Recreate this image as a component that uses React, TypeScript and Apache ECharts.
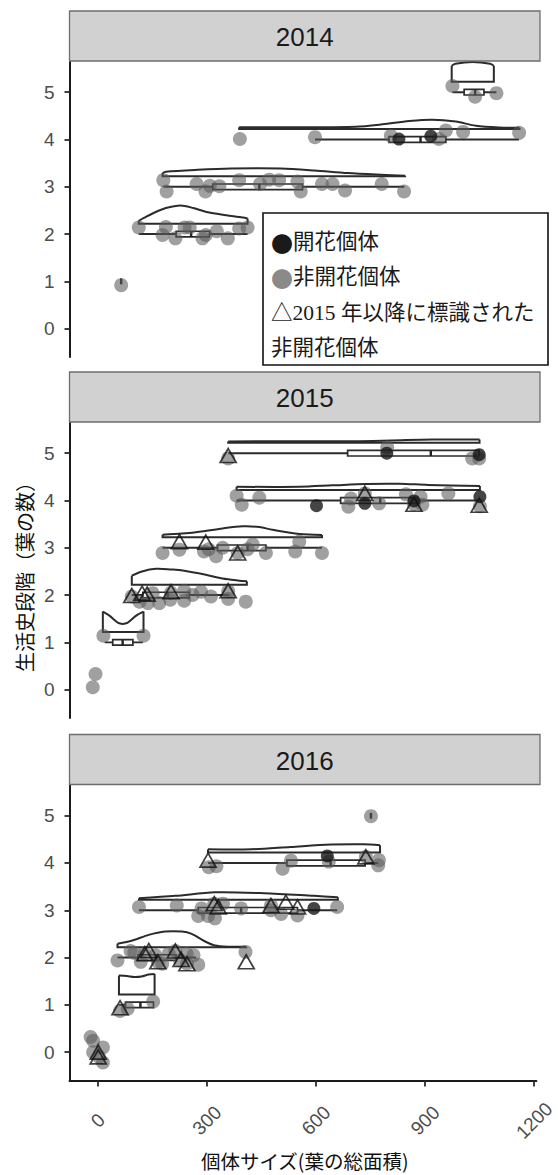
import { useEffect, useRef } from "react";
import * as echarts from "echarts";

// ---------- data ----------
const years = ["2014", "2015", "2016"];
const yTicks = [0, 1, 2, 3, 4, 5];
const xTicks = [0, 300, 600, 900, 1200];
const VIOLIN_OFFSET = 0.22;

// violin outlines: [leaf area, height above violin baseline]
const v14s2 = [[111, 0.06], [125, 0.12], [150, 0.22], [185, 0.33], [225, 0.385], [260, 0.33], [300, 0.24], [350, 0.18], [395, 0.13], [408, 0.11]];
const v14s3 = [[176, 0.07], [185, 0.1], [272, 0.14], [363, 0.165], [499, 0.165], [590, 0.125], [681, 0.07], [772, 0.035], [838, 0.015]];
const v14s4 = [[385, 0.04], [550, 0.04], [703, 0.05], [776, 0.1], [849, 0.17], [912, 0.2], [976, 0.16], [1031, 0.07], [1094, 0.035], [1150, 0.03]];
const v14s5 = [[965, 0.34], [975, 0.38], [1000, 0.41], [1022, 0.42], [1045, 0.41], [1070, 0.38], [1080, 0.34]];

const v15s1 = [[13, 0.43], [30, 0.35], [55, 0.19], [67, 0.17], [80, 0.19], [105, 0.35], [124, 0.43]];
const v15s2 = [[92, 0.19], [120, 0.28], [158, 0.335], [200, 0.32], [231, 0.3], [294, 0.21], [340, 0.13], [385, 0.085], [406, 0.07]];
const v15s3 = [[176, 0.056], [230, 0.08], [276, 0.12], [340, 0.19], [394, 0.233], [440, 0.218], [476, 0.16], [549, 0.07], [611, 0.05]];
const v15s4 = [[378, 0.07], [549, 0.07], [640, 0.1], [731, 0.13], [822, 0.134], [900, 0.11], [1042, 0.085]];
const v15s5 = [[355, 0.03], [700, 0.035], [800, 0.05], [912, 0.07], [1041, 0.07]];

const v16s1 = [[58, 0.4], [80, 0.39], [100, 0.37], [120, 0.38], [140, 0.42], [156, 0.43]];
const v16s2 = [[54, 0.07], [95, 0.14], [140, 0.26], [185, 0.33], [231, 0.33], [258, 0.28], [295, 0.12], [322, 0.035], [360, 0.01], [408, 0.01]];
const v16s3 = [[113, 0.035], [213, 0.085], [322, 0.16], [458, 0.14], [594, 0.085], [660, 0.056]];
const v16s4 = [[303, 0.07], [422, 0.07], [530, 0.12], [640, 0.17], [731, 0.177], [776, 0.155]];

const violins2014 = [{ stage: 2, pts: v14s2 }, { stage: 3, pts: v14s3 }, { stage: 4, pts: v14s4 }, { stage: 5, pts: v14s5 }];
const violins2015 = [{ stage: 1, pts: v15s1 }, { stage: 2, pts: v15s2 }, { stage: 3, pts: v15s3 }, { stage: 4, pts: v15s4 }, { stage: 5, pts: v15s5 }];
const violins2016 = [{ stage: 1, pts: v16s1 }, { stage: 2, pts: v16s2 }, { stage: 3, pts: v16s3 }, { stage: 4, pts: v16s4 }];

// boxplots: [stage, min, q1, median, q3, max]
const box2014 = [[1, 63, 63, 63, 63, 63], [2, 111, 213, 254, 304, 408], [3, 179, 313, 440, 558, 836], [4, 592, 794, 880, 949, 1149], [5, 967, 999, 1029, 1053, 1087]];
const box2015 = [[1, 18, 40, 67, 95, 122], [2, 92, 122, 190, 249, 358], [3, 176, 326, 408, 458, 611], [4, 378, 662, 770, 872, 1042], [5, 355, 681, 908, 1040, 1040]];
const box2016 = [[1, 58, 76, 117, 153, 153], [2, 54, 110, 160, 215, 270], [3, 113, 276, 394, 549, 658], [4, 303, 520, 640, 735, 771], [5, 751, 751, 751, 751, 751]];

// non-flowering individuals [leaf area, jittered stage]
const gray2014 = [
  [63, 0.92],
  [111, 2.14], [176, 1.98], [185, 2.15], [211, 1.91], [236, 2.14], [250, 2.14], [285, 1.91], [294, 1.98], [324, 2.06], [354, 1.91], [385, 2.12], [408, 2.14],
  [178, 3.14], [187, 2.9], [269, 3.06], [293, 2.9], [305, 3.02], [331, 3.01], [385, 3.14], [442, 3.06], [467, 3.15], [494, 3.14], [544, 3.11], [553, 2.9], [611, 3.06], [640, 3.06], [674, 2.92], [774, 3.06], [835, 2.9],
  [387, 4.01], [592, 4.05], [799, 4.08], [930, 4.01], [949, 4.19], [996, 4.16], [1149, 4.14],
  [967, 5.13], [1029, 4.905], [1087, 4.98],
];
const gray2015 = [
  [-7, 0.33], [-14.5, 0.05],
  [14.5, 1.14], [124, 1.14],
  [113, 1.86], [136, 1.83], [167, 1.83], [197, 1.9], [235, 1.88], [235, 2.09], [258, 2.0], [281, 2.07], [308, 1.97], [355, 1.92], [403, 1.86], [149, 2.04], [92, 1.97], [199, 2.05], [355, 2.08],
  [176, 2.89], [222, 2.96], [289, 2.92], [302, 2.97], [322, 2.82], [340, 3.0], [381, 2.89], [408, 2.97], [422, 3.07], [458, 2.89], [538, 2.92], [549, 3.13], [611, 2.89],
  [378, 4.1], [392, 3.91], [440, 4.06], [683, 3.87], [690, 4.04], [728, 4.15], [767, 3.94], [840, 4.13], [862, 3.92], [885, 3.91], [880, 4.08], [956, 4.15], [1042, 3.88],
  [355, 4.89], [789, 5.12], [1021, 4.89], [1040, 4.89],
];
const gray2016 = [
  [-20, 0.32], [-13, 0.24], [14, 0.1], [-13, 0.0], [14, -0.22], [3, -0.1],
  [61, 0.87], [82, 0.92], [152, 1.07],
  [54, 1.94], [90, 2.14], [100, 2.1], [118, 1.91], [129, 2.08], [158, 2.05], [165, 1.91], [177, 1.87], [195, 2.08], [213, 2.14], [226, 1.94], [244, 2.08], [245, 1.87], [263, 2.05], [276, 1.85], [406, 2.12],
  [113, 3.07], [217, 3.1], [276, 2.88], [285, 3.04], [303, 2.88], [320, 3.14], [322, 2.83], [344, 3.14], [394, 3.04], [476, 3.0], [476, 3.1], [504, 2.92], [549, 2.89], [658, 3.07],
  [305, 3.91], [326, 3.93], [508, 3.88], [531, 4.05], [635, 4.03], [737, 4.13], [771, 3.95], [773, 4.06],
  [751, 4.99],
];

// flowering individuals
const black2014 = [[821, 4.01], [908, 4.07]];
const black2015 = [[596, 3.89], [728, 3.94], [862, 3.99], [1042, 4.08], [788, 5.0], [1040, 4.97]];
const black2016 = [[631, 4.15], [594, 3.04]];

// non-flowering individuals marked from 2015 on
const tri2014: number[][] = [];
const tri2015 = [
  [92, 1.99], [120, 2.04], [134, 2.02], [199, 2.07], [355, 2.09],
  [222, 3.13], [294, 3.12], [381, 2.89],
  [728, 4.15], [862, 3.92], [1040, 3.9],
  [355, 4.95],
];
const tri2016 = [
  [1, 0.0], [1, -0.1],
  [61, 0.94],
  [129, 2.08], [140, 2.15], [165, 1.91], [213, 2.14], [229, 1.96], [245, 1.87], [408, 1.91],
  [320, 3.14], [331, 3.07], [476, 3.1], [517, 3.17], [549, 3.07],
  [303, 4.06], [737, 4.13],
];

const violinsByYear = [violins2014, violins2015, violins2016];
const boxesByYear = [box2014, box2015, box2016];
const grayByYear = [gray2014, gray2015, gray2016];
const blackByYear = [black2014, black2015, black2016];
const triByYear = [tri2014, tri2015, tri2016];

// ---------- layout ----------
const LEFT = 69.5;
const WIDTH = 470.5;
const PANEL_TOP = [61, 422, 784.5];
const PANEL_H = 296;
const STRIP_H = 50;
const X_MIN = -78;
const X_MAX = 1206;
const Y_MIN = -0.6;
const Y_MAX = 5.66;

const LINE = "#2b2b2b";
const SANS = "'Liberation Sans', Arial, sans-serif";
const CJK = "'Noto Sans CJK JP', sans-serif";
const LEGEND_FONT = "'Liberation Serif', 'Noto Sans CJK JP', serif";

function violinSeries(gi: number, list: { stage: number; pts: number[][] }[]) {
  return {
    type: "custom",
    xAxisIndex: gi,
    yAxisIndex: gi,
    z: 1,
    silent: true,
    data: list.map((v, i) => [v.pts[0][0], v.stage, i]),
    encode: { x: 0, y: 1 },
    renderItem: (_p: any, api: any) => {
      const v = list[api.value(2)];
      const base = v.stage + VIOLIN_OFFSET;
      const top = v.pts.map((p) => api.coord([p[0], base + p[1]]));
      const b0 = api.coord([v.pts[0][0], base]);
      const b1 = api.coord([v.pts[v.pts.length - 1][0], base]);
      return {
        type: "group",
        children: [
          { type: "polyline", shape: { points: top, smooth: 0.3 }, style: { stroke: LINE, lineWidth: 2, fill: "none" } },
          { type: "polyline", shape: { points: [top[0], b0, b1, top[top.length - 1]] }, style: { stroke: LINE, lineWidth: 2, fill: "none" } },
        ],
      };
    },
  };
}

function boxSeries(gi: number, list: number[][]) {
  return {
    type: "custom",
    xAxisIndex: gi,
    yAxisIndex: gi,
    z: 2,
    silent: true,
    data: list,
    encode: { y: 0, x: [1, 2, 3, 4, 5] },
    renderItem: (_p: any, api: any) => {
      const s = api.value(0);
      const pMin = api.coord([api.value(1), s]);
      const pQ1 = api.coord([api.value(2), s]);
      const pMed = api.coord([api.value(3), s]);
      const pQ3 = api.coord([api.value(4), s]);
      const pMax = api.coord([api.value(5), s]);
      const hh = 2.8;
      return {
        type: "group",
        children: [
          { type: "line", shape: { x1: pMin[0], y1: pMin[1], x2: pMax[0], y2: pMax[1] }, style: { stroke: LINE, lineWidth: 1.9 } },
          { type: "rect", shape: { x: pQ1[0], y: pQ1[1] - hh, width: pQ3[0] - pQ1[0], height: 2 * hh }, style: { fill: "#ffffff", stroke: LINE, lineWidth: 1.7 } },
          { type: "line", shape: { x1: pMed[0], y1: pMed[1] - hh, x2: pMed[0], y2: pMed[1] + hh }, style: { stroke: "#222", lineWidth: 2.4 } },
        ],
      };
    },
  };
}

export default function App() {
  const ref = useRef<HTMLDivElement>(null);

  useEffect(() => {
    if (!ref.current) return;
    const chart = echarts.init(ref.current, undefined, { renderer: "svg" });

    const grids = PANEL_TOP.map((t) => ({ left: LEFT, top: t, width: WIDTH, height: PANEL_H, containLabel: false }));

    const xAxes = PANEL_TOP.map((_, i) => {
      const last = i === PANEL_TOP.length - 1;
      return {
        type: "value",
        gridIndex: i,
        min: X_MIN,
        max: X_MAX,
        splitLine: { show: false },
        axisLine: { show: last, onZero: false, lineStyle: { color: "#1a1a1a", width: 2 } },
        axisTick: { show: last, length: 6, customValues: xTicks, lineStyle: { color: LINE, width: 1.8 } },
        axisLabel: {
          show: last,
          customValues: xTicks,
          formatter: (v: number) => String(v),
          rotate: 45,
          align: "center",
          verticalAlign: "middle",
          margin: 40,
          fontSize: 19,
          color: "#4d4d4d",
          fontFamily: SANS,
          hideOverlap: false,
        },
      };
    });

    const yAxes = PANEL_TOP.map((_, i) => ({
      type: "value",
      gridIndex: i,
      min: Y_MIN,
      max: Y_MAX,
      splitLine: { show: false },
      axisLine: { show: true, onZero: false, lineStyle: { color: "#1a1a1a", width: 2 } },
      axisTick: { show: true, length: 5, customValues: yTicks, lineStyle: { color: LINE, width: 1.8 } },
      axisLabel: { customValues: yTicks, margin: 15, fontSize: 19, color: "#4d4d4d", fontFamily: SANS },
    }));

    const series: any[] = [];
    years.forEach((_, gi) => {
      series.push(violinSeries(gi, violinsByYear[gi]));
      series.push(boxSeries(gi, boxesByYear[gi]));
      series.push({
        type: "scatter", xAxisIndex: gi, yAxisIndex: gi, z: 3, silent: true,
        symbol: "circle", symbolSize: 14,
        itemStyle: { color: "rgba(90,90,90,0.72)" },
        data: grayByYear[gi],
      });
      series.push({
        type: "scatter", xAxisIndex: gi, yAxisIndex: gi, z: 4, silent: true,
        symbol: "circle", symbolSize: 13,
        itemStyle: { color: "#161616" },
        data: blackByYear[gi],
      });
      series.push({
        type: "scatter", xAxisIndex: gi, yAxisIndex: gi, z: 5, silent: true,
        symbol: "triangle", symbolSize: [16, 14],
        itemStyle: { color: "rgba(0,0,0,0)", borderColor: "#111", borderWidth: 1.7 },
        data: triByYear[gi],
      });
    });

    const graphics: any[] = [];
    years.forEach((yr, gi) => {
      const st = PANEL_TOP[gi] - STRIP_H;
      graphics.push({
        type: "rect", z: 10, silent: true,
        shape: { x: LEFT, y: st, width: WIDTH, height: STRIP_H },
        style: { fill: "#d1d1d1", stroke: "#6e6e6e", lineWidth: 1.3 },
      });
      graphics.push({
        type: "text", z: 11, silent: true,
        x: LEFT + WIDTH / 2, y: st + STRIP_H / 2 + 1,
        style: { text: yr, fill: "#1a1a1a", font: `26px ${SANS}`, textAlign: "center", textVerticalAlign: "middle", align: "center", verticalAlign: "middle" },
      });
    });

    // legend box
    const LX = 263, LY = 213;
    graphics.push({
      type: "rect", z: 20, silent: true,
      shape: { x: LX, y: LY, width: 285, height: 152 },
      style: { fill: "#ffffff", stroke: "#111", lineWidth: 1.6 },
    });
    const legendRows = [
      { y: 242, mark: "●", markColor: "#1a1a1a", text: "開花個体" },
      { y: 277, mark: "●", markColor: "#8a8a8a", text: "非開花個体" },
      { y: 313, mark: "", markColor: "#1a1a1a", text: "△2015 年以降に標識された" },
      { y: 348, mark: "", markColor: "#1a1a1a", text: "非開花個体" },
    ];
    legendRows.forEach((r) => {
      if (r.mark) {
        graphics.push({
          type: "text", z: 21, silent: true, x: LX + 8, y: r.y,
          style: { text: r.mark, fill: r.markColor, font: `22px ${CJK}`, textAlign: "left", textVerticalAlign: "middle", align: "left", verticalAlign: "middle" },
        });
      }
      graphics.push({
        type: "text", z: 21, silent: true, x: r.mark ? LX + 30 : LX + 8, y: r.y,
        style: { text: r.text, fill: "#1a1a1a", font: `21.5px ${LEGEND_FONT}`, textAlign: "left", textVerticalAlign: "middle", align: "left", verticalAlign: "middle" },
      });
    });

    // axis titles
    graphics.push({
      type: "text", z: 21, silent: true,
      x: 24, y: PANEL_TOP[1] + PANEL_H / 2 + 2, rotation: Math.PI / 2,
      style: { text: "生活史段階（葉の数）", fill: "#111", font: `20px ${CJK}`, textAlign: "center", textVerticalAlign: "middle", align: "center", verticalAlign: "middle" },
    });
    graphics.push({
      type: "text", z: 21, silent: true,
      x: LEFT + WIDTH / 2, y: 1160,
      style: { text: "個体サイズ(葉の総面積)", fill: "#111", font: `19.5px ${CJK}`, textAlign: "center", textVerticalAlign: "middle", align: "center", verticalAlign: "middle" },
    });

    chart.setOption({
      animation: false,
      backgroundColor: "#ffffff",
      grid: grids,
      xAxis: xAxes,
      yAxis: yAxes,
      series,
      graphic: graphics,
    });

    return () => chart.dispose();
  }, []);

  return <div ref={ref} style={{ position: "absolute", left: 0, top: 0, width: 558, height: 1175 }} />;
}
